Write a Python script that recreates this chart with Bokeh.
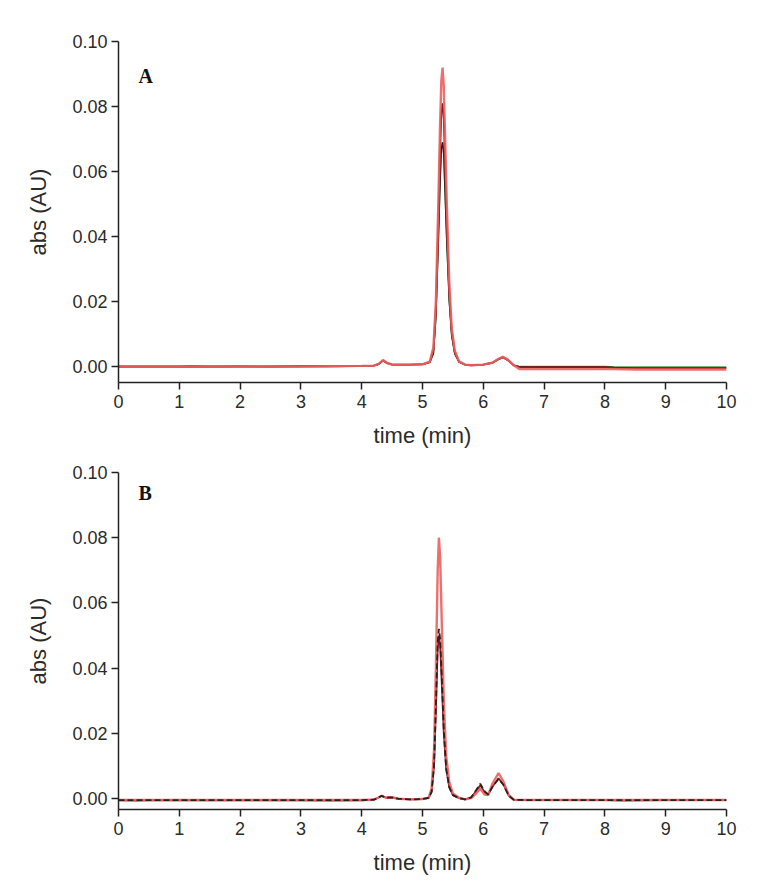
from bokeh.plotting import figure
from bokeh.models import Range1d, FixedTicker, PrintfTickFormatter, Label
from bokeh.layouts import column
from bokeh.embed import file_html
from bokeh.resources import INLINE

# ---------------- Panel A data ----------------
time_A = [0, 0.5, 1.0, 1.2, 1.5, 2.0, 2.5, 3.0, 3.5, 4.0,
          4.2, 4.28, 4.35, 4.42, 4.5, 4.8, 5.0, 5.12, 5.18, 5.22,
          5.26, 5.29, 5.31, 5.33, 5.35, 5.37, 5.40, 5.44, 5.48, 5.53,
          5.6, 5.7, 5.8, 6.0, 6.15, 6.25, 6.32, 6.4, 6.5, 6.6,
          7.0, 7.5, 8.0, 8.15, 8.5, 9.0, 9.5, 10.0]
red_A = [0, 0, 0, 0, 0, 0, 0, 0, 0.0001, 0.0002,
         0.0003, 0.0008, 0.0020, 0.0011, 0.0006, 0.0006, 0.0007, 0.0015, 0.006, 0.020,
         0.050, 0.075, 0.088, 0.092, 0.086, 0.072, 0.050, 0.026, 0.012, 0.005,
         0.0016, 0.0006, 0.0004, 0.0006, 0.0012, 0.0024, 0.0030, 0.0022, 0.0004, -0.0008,
         -0.0008, -0.0008, -0.0008, -0.0008, -0.0009, -0.0009, -0.0009, -0.0009]
darkred_A = [0, 0, 0, 0.0001, 0, 0, 0, 0.0001, 0.0001, 0.0002,
             0.0003, 0.0008, 0.0019, 0.0011, 0.0006, 0.0006, 0.0007, 0.0014, 0.005, 0.018,
             0.044, 0.066, 0.078, 0.081, 0.076, 0.063, 0.044, 0.023, 0.011, 0.0045,
             0.0015, 0.0006, 0.0004, 0.0006, 0.0012, 0.0023, 0.0029, 0.0021, 0.0004, -0.0002,
             -0.0002, -0.0002, -0.0002, -0.0004, -0.0005, -0.0005, -0.0005, -0.0005]
black_A = [0, 0, 0, 0, 0, 0.0001, 0, 0.0001, 0.0001, 0.0002,
           0.0003, 0.0007, 0.0018, 0.0010, 0.0006, 0.0006, 0.0007, 0.0013, 0.004, 0.015,
           0.038, 0.057, 0.067, 0.069, 0.065, 0.054, 0.038, 0.020, 0.0095, 0.004,
           0.0014, 0.0006, 0.0004, 0.0006, 0.0011, 0.0022, 0.0028, 0.0020, 0.0004, -0.0001,
           -0.0001, -0.0001, -0.0001, -0.0003, -0.0004, -0.0004, -0.0004, -0.0004]
green_A = [0, 0, 0, 0, 0, 0, 0, 0, 0.0001, 0.0002,
           0.0003, 0.0007, 0.0018, 0.0010, 0.0006, 0.0006, 0.0007, 0.0013, 0.004, 0.015,
           0.038, 0.057, 0.067, 0.069, 0.065, 0.054, 0.038, 0.020, 0.0095, 0.004,
           0.0014, 0.0006, 0.0004, 0.0006, 0.0011, 0.0022, 0.0028, 0.0020, 0.0004, 0.0,
           0.0, 0.0, 0.0, -0.0001, -0.0001, -0.0001, -0.0001, -0.0001]

# ---------------- Panel B data ----------------
time_B = [0, 0.3, 0.5, 1.0, 1.5, 2.0, 2.5, 3.0, 3.5, 4.0,
          4.2, 4.27, 4.33, 4.4, 4.47, 4.53, 4.6, 4.8, 5.0, 5.1,
          5.15, 5.19, 5.22, 5.25, 5.27, 5.29, 5.32, 5.35, 5.39, 5.44,
          5.5, 5.6, 5.7, 5.8, 5.88, 5.95, 6.02, 6.08, 6.15, 6.25,
          6.33, 6.42, 6.5, 6.7, 7.0, 8.0, 8.3, 9.0, 10.0]
red_B = [-0.0005, -0.0005, -0.0005, -0.0005, -0.0005, -0.0005, -0.0005, -0.0005, -0.0005, -0.0005,
         -0.0004, 0.0002, 0.0008, 0.0002, 0.0003, 0.0002, -0.0001, -0.0003, -0.0002, 0.0002,
         0.003, 0.015, 0.040, 0.070, 0.080, 0.074, 0.052, 0.030, 0.013, 0.005,
         0.0015, 0.0002, -0.0003, 0.0001, 0.0015, 0.0030, 0.0012, 0.0010, 0.0045, 0.0078,
         0.0052, 0.0010, -0.0004, -0.0005, -0.0005, -0.0005, -0.0005, -0.0005, -0.0005]
darkred_B = [-0.0006, -0.0007, -0.0006, -0.0006, -0.0006, -0.0006, -0.0006, -0.0006, -0.0007, -0.0006,
             -0.0004, 0.0002, 0.0008, 0.0002, 0.0003, 0.0002, -0.0001, -0.0003, -0.0002, 0.0002,
             0.002, 0.010, 0.027, 0.046, 0.050, 0.047, 0.034, 0.020, 0.009, 0.0035,
             0.001, 0.0001, -0.0003, 0.0003, 0.0022, 0.0040, 0.0020, 0.0012, 0.0036, 0.0062,
             0.0043, 0.0008, -0.0004, -0.0005, -0.0005, -0.0005, -0.0007, -0.0005, -0.0005]
black_B = [-0.0005, -0.0005, -0.0005, -0.0005, -0.0005, -0.0005, -0.0005, -0.0005, -0.0005, -0.0005,
           -0.0004, 0.0002, 0.0008, 0.0002, 0.0003, 0.0002, -0.0001, -0.0003, -0.0002, 0.0002,
           0.002, 0.010, 0.028, 0.048, 0.052, 0.049, 0.036, 0.021, 0.009, 0.0035,
           0.001, 0.0001, -0.0003, 0.0003, 0.0025, 0.0045, 0.0022, 0.0012, 0.0035, 0.0060,
           0.0042, 0.0008, -0.0004, -0.0005, -0.0005, -0.0005, -0.0005, -0.0005, -0.0005]

x_ticks = [0, 1, 2, 3, 4, 5, 6, 7, 8, 9, 10]
y_ticks = [0.0, 0.02, 0.04, 0.06, 0.08, 0.10]

RED = "#ec5f5f"
DARKRED = "#8a1b1b"
BLACK = "#2a2020"
GREEN = "#5a9a4a"
FONT = "Liberation Sans"


def make_panel(height, top, bottom, ymin, letter, letter_y):
    p = figure(width=765, height=height, output_backend="svg", toolbar_location=None,
               x_range=Range1d(0, 10), y_range=Range1d(ymin, 0.10),
               min_border_left=118, min_border_right=39,
               min_border_top=top, min_border_bottom=bottom)
    p.outline_line_color = None
    p.xgrid.grid_line_color = None
    p.ygrid.grid_line_color = None
    p.xaxis.ticker = FixedTicker(ticks=x_ticks)
    p.yaxis.ticker = FixedTicker(ticks=y_ticks)
    p.yaxis.formatter = PrintfTickFormatter(format="%.2f")
    for ax in (p.xaxis[0], p.yaxis[0]):
        ax.axis_line_color = "#222222"
        ax.axis_line_width = 1.5
        ax.major_tick_line_color = "#222222"
        ax.major_tick_line_width = 1.5
        ax.major_tick_out = 7
        ax.major_tick_in = 0
        ax.minor_tick_out = 0
        ax.minor_tick_in = 0
        ax.major_label_text_font = FONT
        ax.major_label_text_font_size = "18px"
        ax.major_label_text_color = "#2b2b2b"
        ax.axis_label_text_font = FONT
        ax.axis_label_text_font_size = "22px"
        ax.axis_label_text_font_style = "normal"
        ax.axis_label_text_color = "#2b2b2b"
    p.xaxis.axis_label = "time (min)"
    p.yaxis.axis_label = "abs (AU)"
    p.xaxis.major_label_standoff = 5
    p.xaxis.axis_label_standoff = 12
    p.yaxis.major_label_standoff = 4
    p.yaxis.axis_label_standoff = 18
    p.add_layout(Label(x=20, y=letter_y, x_units="screen", y_units="screen",
                       text=letter, text_font="Liberation Serif", text_font_style="bold",
                       text_font_size="20px", text_color="#111111",
                       text_baseline="middle"))
    return p


pA = make_panel(450, 41, 68, -0.0049, "A", 307)
pA.line(time_A, green_A, line_color=GREEN, line_width=1.4)
pA.line(time_A, black_A, line_color=BLACK, line_width=1.4)
pA.line(time_A, darkred_A, line_color=DARKRED, line_width=1.8)
pA.line(time_A, red_A, line_color=RED, line_width=2.4, line_alpha=0.9)

pB = make_panel(439, 22, 80, -0.0034, "B", 317)
pB.line(time_B, darkred_B, line_color=DARKRED, line_width=1.8)
pB.line(time_B, red_B, line_color=RED, line_width=2.4, line_alpha=0.9)
pB.line(time_B, black_B, line_color=BLACK, line_width=1.8, line_dash="6 3")

layout = column(pA, pB, spacing=0)
open("out.html", "w").write(file_html(layout, INLINE))
